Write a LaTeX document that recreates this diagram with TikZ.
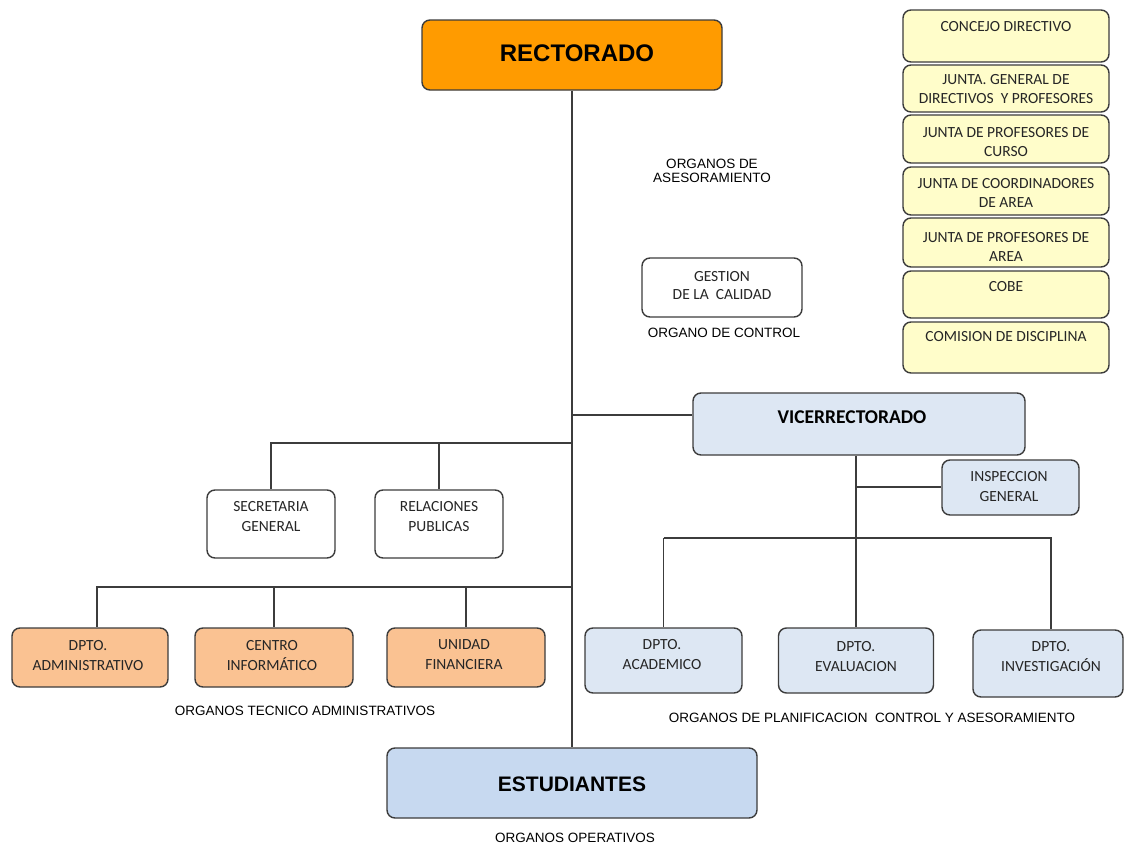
\documentclass[tikz,border=0pt]{standalone}
\usepackage{fontspec}
\setmainfont{Carlito}
\newfontfamily\arialf{Liberation Sans}
\definecolor{orgorange}{RGB}{255,155,0}
\definecolor{orgyellow}{RGB}{255,253,202}
\definecolor{orgpeach}{RGB}{250,194,146}
\definecolor{orgpale}{RGB}{221,231,243}
\definecolor{orgblue}{RGB}{199,217,240}
\definecolor{orgline}{RGB}{60,60,60}
\begin{document}
\begin{tikzpicture}[x=1pt,y=-1pt,
  orgbox/.style={draw=orgline,line width=1.4pt,rounded corners=8pt,inner sep=0pt},
  boxtext/.style={align=center,inner sep=0pt,text=black!85,font=\fontsize{15.5}{20}\selectfont},
  sidetext/.style={align=center,inner sep=0pt,text=black!85,font=\fontsize{15.5}{19}\selectfont},
  grouplabel/.style={align=center,inner sep=0pt,font=\arialf\fontsize{13.5}{14.5}\selectfont},
  link/.style={draw=orgline,line width=1.4pt}]
\fill[white] (0,0) rectangle (1125,846);
\useasboundingbox (0,0) rectangle (1125,846);

% top level
\node[orgbox,fill=orgorange,minimum width=300pt,minimum height=70pt] (rect) at (572,55) {};
\node[inner sep=0pt,font=\arialf\bfseries\fontsize{24}{26}\selectfont] (rect-t) at (577,53) {RECTORADO};

% advisory boards (right column)
\node[orgbox,fill=orgyellow,minimum width=206pt,minimum height=52pt] (cd) at (1006,36) {};
\node[orgbox,fill=orgyellow,minimum width=206pt,minimum height=47pt] (jg) at (1006,88.5) {};
\node[orgbox,fill=orgyellow,minimum width=206pt,minimum height=48pt] (jpc) at (1006,139) {};
\node[orgbox,fill=orgyellow,minimum width=206pt,minimum height=48pt] (jca) at (1006,191) {};
\node[orgbox,fill=orgyellow,minimum width=206pt,minimum height=49pt] (jpa) at (1006,242.5) {};
\node[orgbox,fill=orgyellow,minimum width=206pt,minimum height=47pt] (cobe) at (1006,294.5) {};
\node[orgbox,fill=orgyellow,minimum width=206pt,minimum height=51pt] (cdis) at (1006,347.5) {};
\node[sidetext] (cd-t) at (1006,27) {CONCEJO DIRECTIVO};
\node[sidetext] (jg-t) at (1006,89) {JUNTA. GENERAL DE\\DIRECTIVOS\ \ Y PROFESORES};
\node[sidetext] (jpc-t) at (1006,142) {JUNTA DE PROFESORES DE\\CURSO};
\node[sidetext] (jca-t) at (1006,193) {JUNTA DE COORDINADORES\\DE AREA};
\node[sidetext] (jpa-t) at (1006,247) {JUNTA DE PROFESORES DE\\AREA};
\node[sidetext] (cobe-t) at (1006,287) {COBE};
\node[sidetext] (cdis-t) at (1006,337) {COMISION DE DISCIPLINA};

\node[grouplabel] (ase-l) at (712,171) {ORGANOS DE\\ASESORAMIENTO};

% control
\node[orgbox,fill=white,minimum width=160pt,minimum height=59pt] (gest) at (722,287.5) {};
\node[boxtext,font=\fontsize{15.5}{18}\selectfont] (gest-t) at (722,286) {GESTION\\DE LA\ \ CALIDAD};
\node[grouplabel] (ctl-l) at (724,333) {ORGANO DE CONTROL};

% vice-rectorate branch
\node[orgbox,fill=orgpale,minimum width=332pt,minimum height=62pt] (vice) at (859,424) {};
\node[inner sep=0pt,font=\bfseries\fontsize{19.5}{22}\selectfont] (vice-t) at (852,417) {VICERRECTORADO};
\node[orgbox,fill=orgpale,minimum width=137pt,minimum height=55pt] (insp) at (1010.5,487.5) {};
\node[boxtext] (insp-t) at (1009,487) {INSPECCION\\GENERAL};

\node[orgbox,fill=orgpale,minimum width=157pt,minimum height=65pt] (aca) at (663.5,660.5) {};
\node[orgbox,fill=orgpale,minimum width=155pt,minimum height=65pt] (eva) at (856,660.5) {};
\node[orgbox,fill=orgpale,minimum width=150pt,minimum height=67pt] (inv) at (1048,663.5) {};
\node[boxtext] (aca-t) at (662,655) {DPTO.\\ACADEMICO};
\node[boxtext] (eva-t) at (856,657) {DPTO.\\EVALUACION};
\node[boxtext] (inv-t) at (1051,657) {DPTO.\\INVESTIGACIÓN};
\node[grouplabel] (pla-l) at (872,718) {ORGANOS DE PLANIFICACION\ \ CONTROL Y ASESORAMIENTO};

% staff units
\node[orgbox,fill=white,minimum width=128pt,minimum height=68pt] (sec) at (271,524) {};
\node[orgbox,fill=white,minimum width=128pt,minimum height=68pt] (rel) at (439,524) {};
\node[boxtext] (sec-t) at (271,517) {SECRETARIA\\GENERAL};
\node[boxtext] (rel-t) at (439,517) {RELACIONES\\PUBLICAS};

% technical-administrative units
\node[orgbox,fill=orgpeach,minimum width=156pt,minimum height=59pt] (adm) at (90,657.5) {};
\node[orgbox,fill=orgpeach,minimum width=158pt,minimum height=59pt] (cen) at (274,657.5) {};
\node[orgbox,fill=orgpeach,minimum width=158pt,minimum height=59pt] (fin) at (466,657.5) {};
\node[boxtext] (adm-t) at (88,656) {DPTO.\\ADMINISTRATIVO};
\node[boxtext] (cen-t) at (272,656) {CENTRO\\INFORMÁTICO};
\node[boxtext] (fin-t) at (464,655) {UNIDAD\\FINANCIERA};
\node[grouplabel] (tec-l) at (305,711) {ORGANOS TECNICO ADMINISTRATIVOS};

% operative level
\node[orgbox,fill=orgblue,minimum width=370pt,minimum height=70pt] (stud) at (572,783) {};
\node[inner sep=0pt,font=\arialf\bfseries\fontsize{21}{24}\selectfont] (stud-t) at (572,784) {ESTUDIANTES};
\node[grouplabel] (ope-l) at (575,838) {ORGANOS OPERATIVOS};

% junction points on the trunks
\coordinate (jv) at (572,415);
\coordinate (j1) at (572,443);
\coordinate (j2) at (572,587);
\coordinate (jd) at (856,538);
\coordinate (ji) at (856,487);
\coordinate (admtop) at ([xshift=7pt]adm.north);
\coordinate (invtop) at ([xshift=3pt]inv.north);

% connectors
\draw[link] (rect.south) -- (stud.north);
\draw[link] (jv) -- (jv -| vice.west);
\draw[link] (j1) -- (j1 -| sec.north) -- (sec.north);
\draw[link] (j1 -| rel.north) -- (rel.north);
\draw[link] (j2) -- (j2 -| admtop) -- (admtop);
\draw[link] (j2 -| cen.north) -- (cen.north);
\draw[link] (j2 -| fin.north) -- (fin.north);
\draw[link] (vice.south -| eva.north) -- (eva.north);
\draw[link] (ji) -- (ji -| insp.west);
\draw[link] (jd -| aca.north) -- (aca.north);
\draw[link] (jd -| aca.north) -- (jd -| invtop) -- (invtop);
\end{tikzpicture}
\end{document}
